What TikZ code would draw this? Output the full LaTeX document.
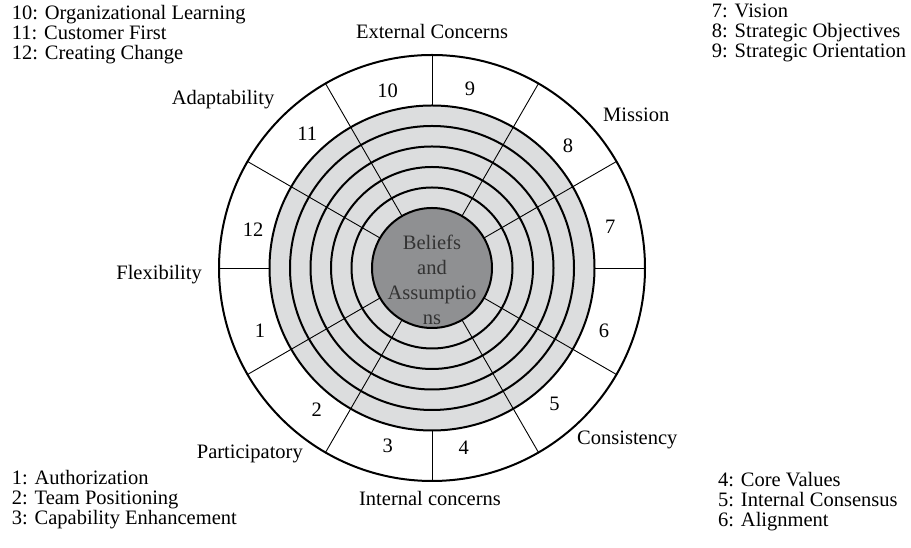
\documentclass[tikz,border=0pt]{standalone}
\usepackage{fontspec}
\setmainfont{Liberation Serif}
\usetikzlibrary{positioning}
\definecolor{bandgrey}{HTML}{DCDDDE}
\definecolor{coregrey}{HTML}{8F9092}
\tikzset{
  ring/.style={line width=2pt},
  spoke/.style={line width=0.9pt},
  lbl/.style={font=\fontsize{20.5}{20}\selectfont, inner sep=0pt},
  legend/.style={font=\fontsize{20.5}{20}\selectfont, align=left, anchor=west, inner sep=0pt}
}
\begin{document}
\begin{tikzpicture}[x=1pt,y=1pt]
\useasboundingbox (0,0) rectangle (911,548);
\coordinate (c) at (432,280);
\draw[ring] (c) circle (213);
\fill[bandgrey] (c) circle (162.5);
\foreach \r in {162.5,142,121.5,101,80.5}
  \draw[ring] (c) circle (\r);
\draw[ring,fill=coregrey] (c) circle (60);
\foreach \a in {0,90,180,270}
  \draw[spoke,shift={(c)}] (\a:162.5) -- (\a:213);
\foreach \a in {30,60,120,150,210,240,300,330}
  \draw[spoke,shift={(c)}] (\a:60) -- (\a:213);
\foreach \a/\n in {13/7,42/8,78/9,104/10,133/11,168/12,200/1,231/2,256/3,280/4,312/5,340/6}
  \node[lbl] (n\n) at ([shift={(\a:183)}]c) {\n};
\node[lbl,text=black!80,align=center,font=\fontsize{20.5}{25}\selectfont] (core) at (432,268) {Beliefs\\and\\Assumptio\\ns};
\node[lbl] (ext) at (432,517) {External Concerns};
\node[lbl,anchor=west] (mis) at (603,433) {Mission};
\node[lbl] (adapt) at (223,448) {Adaptability};
\node[lbl,anchor=east] (flex) at (202,273.5) {Flexibility};
\node[lbl,anchor=east] (part) at (303,94.5) {Participatory};
\node[lbl] (int) at (430,50) {Internal concerns};
\node[lbl,anchor=west] (cons) at (577,108) {Consistency};
\node[legend] (lgtl) at (11.7,513) {10: Organizational Learning\\11: Customer First\\12: Creating Change};
\node[legend] (lgtr) at (711.7,515) {7: Vision\\8: Strategic Objectives\\9: Strategic Orientation};
\node[legend] (lgbl) at (11.7,48) {1: Authorization\\2: Team Positioning\\3: Capability Enhancement};
\node[legend] (lgbr) at (718,46.5) {4: Core Values\\5: Internal Consensus\\6: Alignment};
\end{tikzpicture}
\end{document}
